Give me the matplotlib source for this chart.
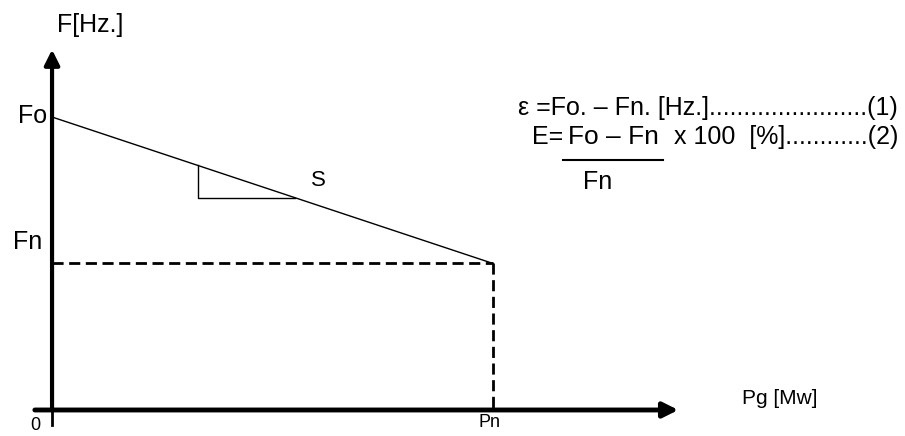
import matplotlib
matplotlib.use("Agg")
from matplotlib import pyplot as plt
from matplotlib.lines import Line2D

plt.rcParams['font.family'] = ['Liberation Sans', 'DejaVu Sans']

# data (arbitrary units)
Fo = 50.0          # no-load frequency
Fn = 25.0          # nominal frequency
Pn = 100.0         # nominal power
tri_x = [33.0, 55.0]   # where the slope triangle sits on the droop line
x_axis_end = 142.0
y_axis_end = 61.5

def droop(p):
    return Fo - (Fo - Fn) * p / Pn

W, H = 905, 436
fig = plt.figure(figsize=(W / 100, H / 100), dpi=100)
ax = fig.add_axes([0, 0, 1, 1])
ax.set_xlim(-11.8, 193.4)
ax.set_ylim(-4.44, 69.97)
ax.axis("off")

# axes with arrows
ax.annotate("", xy=(x_axis_end, 0), xytext=(-3.9, 0),
            arrowprops=dict(arrowstyle="-|>,head_length=0.9,head_width=0.45",
                            color="black", lw=3.5, shrinkA=0, shrinkB=0))
ax.annotate("", xy=(0, y_axis_end), xytext=(0, 0),
            arrowprops=dict(arrowstyle="-|>,head_length=0.9,head_width=0.45",
                            color="black", lw=3, shrinkA=0, shrinkB=0))
ax.plot([0, 0], [-2.6, 0], color="black", lw=2)

# droop line
ax.plot([0, Pn], [Fo, droop(Pn)], color="black", lw=1)

# dashed projections
ax.plot([0, Pn], [Fn, Fn], color="black", lw=2, ls=(0, (4, 2)))
ax.plot([Pn, Pn], [Fn, 0], color="black", lw=2, ls=(0, (4, 2)))

# slope triangle
ax.plot([tri_x[0], tri_x[0], tri_x[1]],
        [droop(tri_x[0]), droop(tri_x[1]), droop(tri_x[1])],
        color="black", lw=1)

# labels
def ftext(x, y, s, size, **kw):
    fig.text(x / W, 1 - y / H, s, fontsize=size, **kw)

ftext(90, 25, "F[Hz.]", 18, ha="center", va="center")
ftext(47, 116, "Fo", 18, ha="right", va="center")
ftext(42, 242, "Fn", 18, ha="right", va="center")
ftext(35, 425, "0", 13, ha="center", va="center")
ftext(490, 422, "Pn", 13, ha="center", va="center")
ftext(780, 398, "Pg [Mw]", 15, ha="center", va="center")
ftext(318, 180, "S", 16, ha="center", va="center")

# equations
ftext(898, 108, "\u03b5 =Fo. \u2013 Fn. [Hz.]" + "." * 23 + "(1)", 18,
      ha="right", va="center")
ftext(532, 137, "E=", 18, ha="left", va="center")
ftext(613, 137, "Fo \u2013 Fn", 19, ha="center", va="center")
ftext(898, 137, "x 100  [%]" + "." * 12 + "(2)", 18, ha="right", va="center")
ftext(598, 182, "Fn", 18, ha="center", va="center")
fig.add_artist(Line2D([563 / W, 663 / W], [1 - 160 / H, 1 - 160 / H],
                      color="black", lw=1.5))

fig.savefig("out.png", dpi=100)
